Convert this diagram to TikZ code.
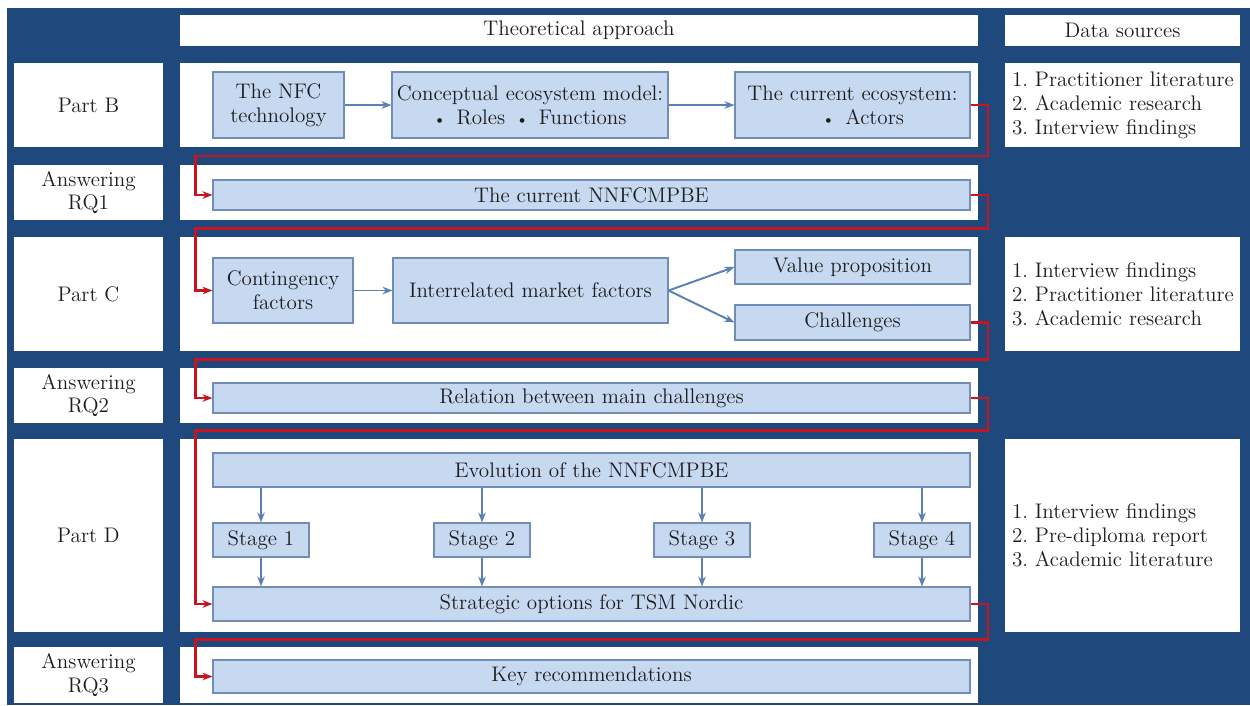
\documentclass[tikz,border=0pt]{standalone}
\usetikzlibrary{arrows.meta}
\definecolor{cnavy}{HTML}{1F497D}
\definecolor{cpale}{HTML}{C6D9F1}
\definecolor{cedge}{HTML}{6F8DB5}
\definecolor{carrow}{HTML}{5B80B4}
\definecolor{cred}{HTML}{C8141E}
\definecolor{ctext}{HTML}{1C1C1C}
\tikzset{
  every picture/.style={font=\fontsize{12}{13.6}\selectfont},
  panel/.style={fill=white, text=ctext, inner sep=0pt, align=center},
  box/.style={draw=cedge, fill=cpale, text=ctext, line width=0.6pt, align=center, inner sep=0pt},
  srclist/.style={text=ctext, align=left, inner sep=0pt, anchor=west},
  flow/.style={-{Stealth[length=2mm]}, draw=carrow, line width=1.1pt},
  back/.style={-{Stealth[length=2mm]}, draw=cred, line width=1.5pt},
}
\newcommand{\itemdot}{{\small\textbullet}}

\begin{document}
\begin{tikzpicture}
  \useasboundingbox (0,0) rectangle (25,-14.1);
  \fill[cnavy] (0.14,-0.16) rectangle (25,-14.1);
  % column headers
  \node[panel, minimum width=15.96cm, minimum height=0.62cm] (theory) at (11.58,-0.61) {Theoretical approach};
  \node[panel, minimum width=4.7cm, minimum height=0.62cm] (data) at (22.45,-0.61) {Data sources};
  % rows: label, middle panel
  \foreach \r/\y/\h/\t in {B/-2.10/1.68/Part B, Q1/-3.85/1.10/Answering\\RQ1, C/-5.88/2.28/Part C,
      Q2/-7.91/1.10/Answering\\RQ2, D/-10.71/3.86/Part D, Q3/-13.50/1.12/Answering\\RQ3} {
    \node[panel, minimum width=2.98cm, minimum height=\h cm] (lab\r) at (1.77,\y) {\t};
    \node[panel, minimum width=15.96cm, minimum height=\h cm] (mid\r) at (11.58,\y) {};
  }
  % data sources
  \node[panel, minimum width=4.7cm, minimum height=1.68cm] (srcB) at (22.45,-2.10) {};
  \node[panel, minimum width=4.7cm, minimum height=2.28cm] (srcC) at (22.45,-5.88) {};
  \node[panel, minimum width=4.7cm, minimum height=3.86cm] (srcD) at (22.45,-10.71) {};
  \node[srclist] (listB) at ([xshift=0.14cm]srcB.west) {1.\ Practitioner literature\\2.\ Academic research\\3.\ Interview findings};
  \node[srclist] (listC) at ([xshift=0.14cm]srcC.west) {1.\ Interview findings\\2.\ Practitioner literature\\3.\ Academic research};
  \node[srclist] (listD) at ([xshift=0.14cm]srcD.west) {1.\ Interview findings\\2.\ Pre-diploma report\\3.\ Academic literature};

  % Part B
  \node[box, minimum width=2.62cm, minimum height=1.32cm] (nfc) at (5.57,-2.10) {The NFC\\technology};
  \node[box, minimum width=5.52cm, minimum height=1.32cm] (con) at (10.60,-2.10) {Conceptual ecosystem model:\\\itemdot\enspace Roles\enspace\itemdot\enspace Functions};
  \node[box, minimum width=4.70cm, minimum height=1.32cm] (cur) at (17.05,-2.10) {The current ecosystem:\\\quad\itemdot\enspace Actors};
  \node[box, minimum width=15.14cm, minimum height=0.60cm] (nnf) at (11.83,-3.90) {The current NNFCMPBE};
  % Part C
  \node[box, minimum width=2.80cm, minimum height=1.30cm] (cont) at (5.66,-5.81) {Contingency\\factors};
  \node[box, minimum width=5.50cm, minimum height=1.30cm] (imf) at (10.61,-5.81) {Interrelated market factors};
  \node[box, minimum width=4.70cm, minimum height=0.68cm] (val) at (17.05,-5.34) {Value proposition};
  \node[box, minimum width=4.70cm, minimum height=0.70cm] (chal) at (17.05,-6.45) {Challenges};
  \node[box, minimum width=15.14cm, minimum height=0.60cm] (rel) at (11.83,-7.96) {Relation between main challenges};
  % Part D
  \node[box, minimum width=15.14cm, minimum height=0.68cm] (evo) at (11.83,-9.40) {Evolution of the NNFCMPBE};
  \foreach \i/\x in {1/5.22, 2/9.64, 3/14.04, 4/18.44}
    \node[box, minimum width=1.92cm, minimum height=0.68cm] (st\i) at (\x,-10.80) {Stage \i};
  \node[box, minimum width=15.14cm, minimum height=0.68cm] (strat) at (11.83,-12.08) {Strategic options for TSM Nordic};
  \node[box, minimum width=15.14cm, minimum height=0.66cm] (key) at (11.83,-13.53) {Key recommendations};

  % blue arrows
  \draw[flow] (nfc) -- (con);
  \draw[flow] (con) -- (cur);
  \draw[flow] (cont) -- (imf);
  \draw[flow] (imf.east) -- (val.west);
  \draw[flow] (imf.east) -- (chal.west);
  \foreach \i in {1,...,4} {
    \draw[flow] (evo.south -| st\i) -- (st\i);
    \draw[flow] (st\i) -- (strat.north -| st\i);
  }
  % red links between rows
  \foreach \a/\b/\y in {cur/nnf/-3.12, nnf/cont/-4.57, chal/rel/-7.19, rel/strat/-8.61, strat/key/-12.79}
    \draw[back] (\a.east) -| (19.76,\y) -| ([xshift=-0.34cm]\b.west) -- (\b.west);
\end{tikzpicture}
\end{document}
